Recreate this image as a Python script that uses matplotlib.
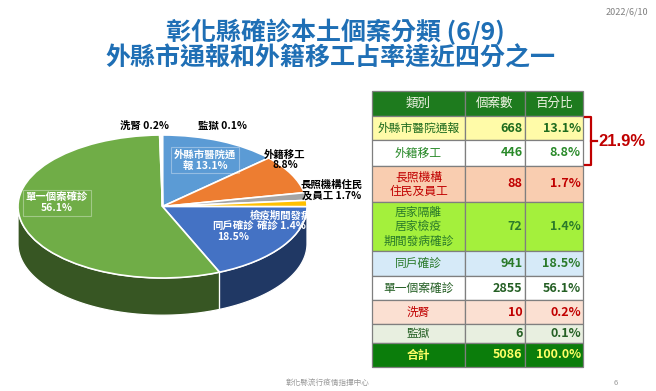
import numpy as np
import matplotlib
matplotlib.use('Agg')
import matplotlib.pyplot as plt
from matplotlib.patches import Polygon
from matplotlib.lines import Line2D

plt.rcParams['font.family'] = ['Noto Sans CJK TC', 'DejaVu Sans']

# ---------------- data ----------------
categories = ['外縣市醫院通報', '外籍移工', '長照機構\n住民及員工',
              '居家隔離\n居家檢疫\n期間發病確診', '同戶確診', '單一個案確診', '洗腎', '監獄']
counts = [668, 446, 88, 72, 941, 2855, 10, 6]
percents = [13.1, 8.8, 1.7, 1.4, 18.5, 56.1, 0.2, 0.1]
total_count = 5086
total_percent = 100.0
header = ['類別', '個案數', '百分比']
pie_names = ['外縣市醫院通\n報 ', '外籍移工\n', '長照機構住民\n及員工 ',
             '檢疫期間發病\n確診 ', '同戶確診\n', '單一個案確診\n', '洗腎 ', '監獄 ']
bracket_value = 21.9
title1 = '彰化縣確診本土個案分類 (6/9)'
title2 = '外縣市通報和外籍移工占率達近四分之一'
date_text = '2022/6/10'
footer_text = '彰化縣流行疫情指揮中心'
page_no = '6'

# ---------------- styles ----------------
W, H = 656, 391
top_colors = ['#5B9BD5', '#ED7D31', '#A5A5A5', '#FFC000', '#4472C4', '#70AD47', '#D9D9D9', '#EDEDED']
side_colors = ['#2E5A86', '#8E4A1C', '#6A6A6A', '#9A7400', '#203864', '#375623', '#9A9A9A', '#B0B0B0']
label_colors = ['white', 'black', 'black', 'white', 'white', 'white', 'black', 'black']
label_pos = [(205, 160), (285, 160), (332, 190), (281, 221), (233, 232), (57, 203), (145, 126), (223, 126)]
label_box = [True, False, False, False, False, True, False, False]

fig = plt.figure(figsize=(W / 100, H / 100), dpi=100)
fig.patch.set_facecolor('white')

# ---------------- 3D-ish pie ----------------
cx, cy, a, b = 162.5, 206.5, 144.5, 71.5
depth = 0.52
xr = 1.1
pl = cx - xr * a
pt = cy - 1.1 * b
pb = cy + (1.1 + depth) * b
pax = fig.add_axes([pl / W, (H - pb) / H, 2 * xr * a / W, (pb - pt) / H])
wedges, _ = pax.pie(counts, colors=top_colors, startangle=90, counterclock=False,
                    wedgeprops=dict(edgecolor='white', linewidth=1.2, zorder=3))
pax.set_aspect('auto')
pax.set_xlim(-xr, xr)
pax.set_ylim(-1.1 - depth, 1.1)
pax.axis('off')

for w, sc in zip(wedges, side_colors):
    t = np.radians(np.linspace(w.theta1, w.theta2, 400))
    front = np.sin(t) <= 1e-9
    if not front.any():
        continue
    idx = np.where(front)[0]
    runs = np.split(idx, np.where(np.diff(idx) > 1)[0] + 1)
    for r in runs:
        if len(r) < 2:
            continue
        tt = t[r]
        top = np.column_stack([np.cos(tt), np.sin(tt)])
        bot = np.column_stack([np.cos(tt[::-1]), np.sin(tt[::-1]) - depth])
        pax.add_patch(Polygon(np.vstack([top, bot]), closed=True, facecolor=sc,
                              edgecolor='white', linewidth=0.9, zorder=1))

# ---------------- overlay (pixel coordinates) ----------------
ov = fig.add_axes([0, 0, 1, 1])
ov.set_xlim(0, W)
ov.set_ylim(H, 0)
ov.axis('off')

ov.text(335, 32, title1, ha='center', va='center', fontsize=18, fontweight='bold', color='#1F6FB5')
ov.text(330, 58, title2, ha='center', va='center', fontsize=18, fontweight='bold', color='#1F6FB5')
ov.text(648, 12, date_text, ha='right', va='center', fontsize=6.5, color='#808080')
ov.text(328, 383, footer_text, ha='center', va='center', fontsize=5.5, color='#999999')
ov.text(616, 383, page_no, ha='center', va='center', fontsize=5.5, color='#999999')

for name, p, (x, y), c, bx in zip(pie_names, percents, label_pos, label_colors, label_box):
    kw = {}
    if bx:
        kw['bbox'] = dict(boxstyle='square,pad=0.25', facecolor='none', edgecolor=(1, 1, 1, 0.35), linewidth=0.8)
    ov.text(x, y, f'{name}{p}%', ha='center', va='center', fontsize=7.5, fontweight='bold',
            color=c, linespacing=1.1, zorder=5, **kw)

# ---------------- table ----------------
cell_text = [header]
for cat, n, p in zip(categories, counts, percents):
    cell_text.append([cat, f'{n}', f'{p:.1f}%'])
cell_text.append(['合計', f'{total_count}', f'{total_percent:.1f}%'])

row_heights = [25, 24, 26, 36, 49, 25, 24, 24, 19, 24]
col_widths = [93, 60, 58]
row_bg = ['#1E7B1E', '#FFFBA8', '#FFFFFF', '#F9CDB0', '#A4F03C', '#D6EAF8',
          '#FFFFFF', '#FBE0D2', '#E8EFE0', '#0B7D0B']
row_fg = ['#F2F5E6', '#1E6B1E', '#2A8A2A', '#C00000', '#2A7A2A', '#2A7A2A',
          '#245F24', '#C00000', '#245F24', '#FFFF66']

tl, tr, ttop, tbot = 372, 583, 91, 367
tab = ov.table(cellText=cell_text, colWidths=[c / sum(col_widths) for c in col_widths],
               cellLoc='center',
               bbox=[tl / W, (H - tbot) / H, (tr - tl) / W, (tbot - ttop) / H])
tab.auto_set_font_size(False)
for (r, c), cell in tab.get_celld().items():
    cell.set_height(row_heights[r])
    cell.set_facecolor(row_bg[r])
    cell.set_edgecolor('#7F7F7F')
    cell.set_linewidth(0.9)
    cell.PAD = 0.04
    txt = cell.get_text()
    txt.set_fontsize(8.5)
    txt.set_color(row_fg[r])
    txt.set_linespacing(1.15)
    if r == 0:
        txt.set_ha('center')
        txt.set_fontsize(9)
    elif c == 0:
        txt.set_ha('center')
    else:
        txt.set_ha('right')
        txt.set_fontweight('bold')
        txt.set_fontsize(9)
    if r == len(row_heights) - 1:
        txt.set_fontweight('bold')

# bracket for first two rows
red = '#C00000'
bx0, bx1, bx2 = 585, 591, 597
ov.add_line(Line2D([bx0, bx1, bx1, bx0], [117, 117, 165, 165], color=red, linewidth=1.6))
ov.add_line(Line2D([bx1, bx2], [141, 141], color=red, linewidth=1.6))
ov.text(598, 142, f'{bracket_value}%', ha='left', va='center', fontsize=12,
        fontweight='bold', color=red, family=['Liberation Sans', 'DejaVu Sans'])

fig.savefig('out.png', dpi=100, facecolor='white')
